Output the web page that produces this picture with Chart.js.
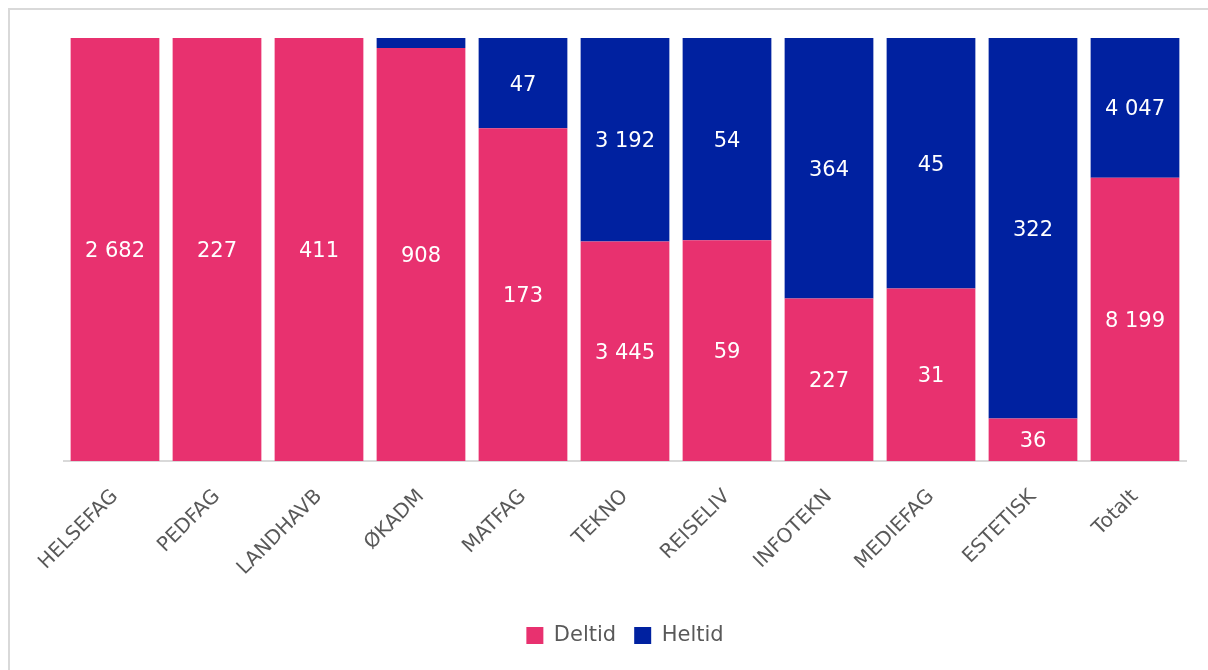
<!DOCTYPE html>
<html>
<head>
<meta charset="utf-8">
<script src="https://cdn.jsdelivr.net/npm/chart.js@4"></script>
<style>
  html, body { margin: 0; padding: 0; background: #fff; overflow: hidden; }
  #frame { position: absolute; left: 8px; top: 8px; width: 1220px; height: 680px; border: 2px solid #d9d9d9; }
  #wrap { position: absolute; left: 0; top: 0; width: 1208px; height: 670px; }
</style>
</head>
<body>
<div id="frame"></div>
<div id="wrap"><canvas id="chart"></canvas></div>
<script>
const categories = ['HELSEFAG', 'PEDFAG', 'LANDHAVB', 'ØKADM', 'MATFAG', 'TEKNO', 'REISELIV', 'INFOTEKN', 'MEDIEFAG', 'ESTETISK', 'Totalt'];
const deltid = [2682, 227, 411, 908, 173, 3445, 59, 227, 31, 36, 8199];
const heltid = [0, 0, 0, 22, 47, 3192, 54, 364, 45, 322, 4047];

const totals = categories.map((c, i) => deltid[i] + heltid[i]);
const pct = (arr) => arr.map((v, i) => v / totals[i] * 100);

function fmt(n) {
    return String(n).replace(/\B(?=(\d{3})+(?!\d))/g, ' ');
}

const segmentLabels = {
    id: 'segmentLabels',
    afterDatasetsDraw(chart) {
        const ctx = chart.ctx;
        ctx.save();
        ctx.fillStyle = '#ffffff';
        ctx.font = '21px "DejaVu Sans", sans-serif';
        ctx.textAlign = 'center';
        ctx.textBaseline = 'middle';
        chart.data.datasets.forEach((ds, di) => {
            const meta = chart.getDatasetMeta(di);
            meta.data.forEach((bar, i) => {
                const raw = ds.raw[i];
                if (!raw || ds.data[i] < 5) return;
                const y = (bar.y + bar.base) / 2 + 2;
                ctx.fillText(fmt(raw), bar.x, y);
            });
        });
        ctx.restore();
    }
};

new Chart(document.getElementById('chart'), {
    type: 'bar',
    data: {
        labels: categories,
        datasets: [
            {
                label: 'Deltid',
                data: pct(deltid),
                raw: deltid,
                backgroundColor: '#e8316f',
                barPercentage: 0.87,
                categoryPercentage: 1
            },
            {
                label: 'Heltid',
                data: pct(heltid),
                raw: heltid,
                backgroundColor: '#0021a0',
                barPercentage: 0.87,
                categoryPercentage: 1
            }
        ]
    },
    options: {
        responsive: true,
        maintainAspectRatio: false,
        animation: false,
        layout: {
            padding: { left: 64, right: 22, top: 38, bottom: 14 }
        },
        scales: {
            x: {
                stacked: true,
                grid: { display: false, drawTicks: false },
                border: { display: true, color: '#d9d9d9', width: 2 },
                afterFit: (s) => { s.height = 146; },
                ticks: {
                    color: '#595959',
                    font: { family: '"DejaVu Sans", sans-serif', size: 20 },
                    minRotation: 45,
                    maxRotation: 45,
                    padding: 24
                }
            },
            y: {
                stacked: true,
                display: false,
                min: 0,
                max: 100
            }
        },
        plugins: {
            legend: {
                position: 'bottom',
                labels: {
                    color: '#595959',
                    font: { family: '"DejaVu Sans", sans-serif', size: 21 },
                    boxWidth: 17,
                    boxHeight: 17,
                    padding: 18
                }
            },
            tooltip: { enabled: false }
        }
    },
    plugins: [segmentLabels]
});
</script>
</body>
</html>
